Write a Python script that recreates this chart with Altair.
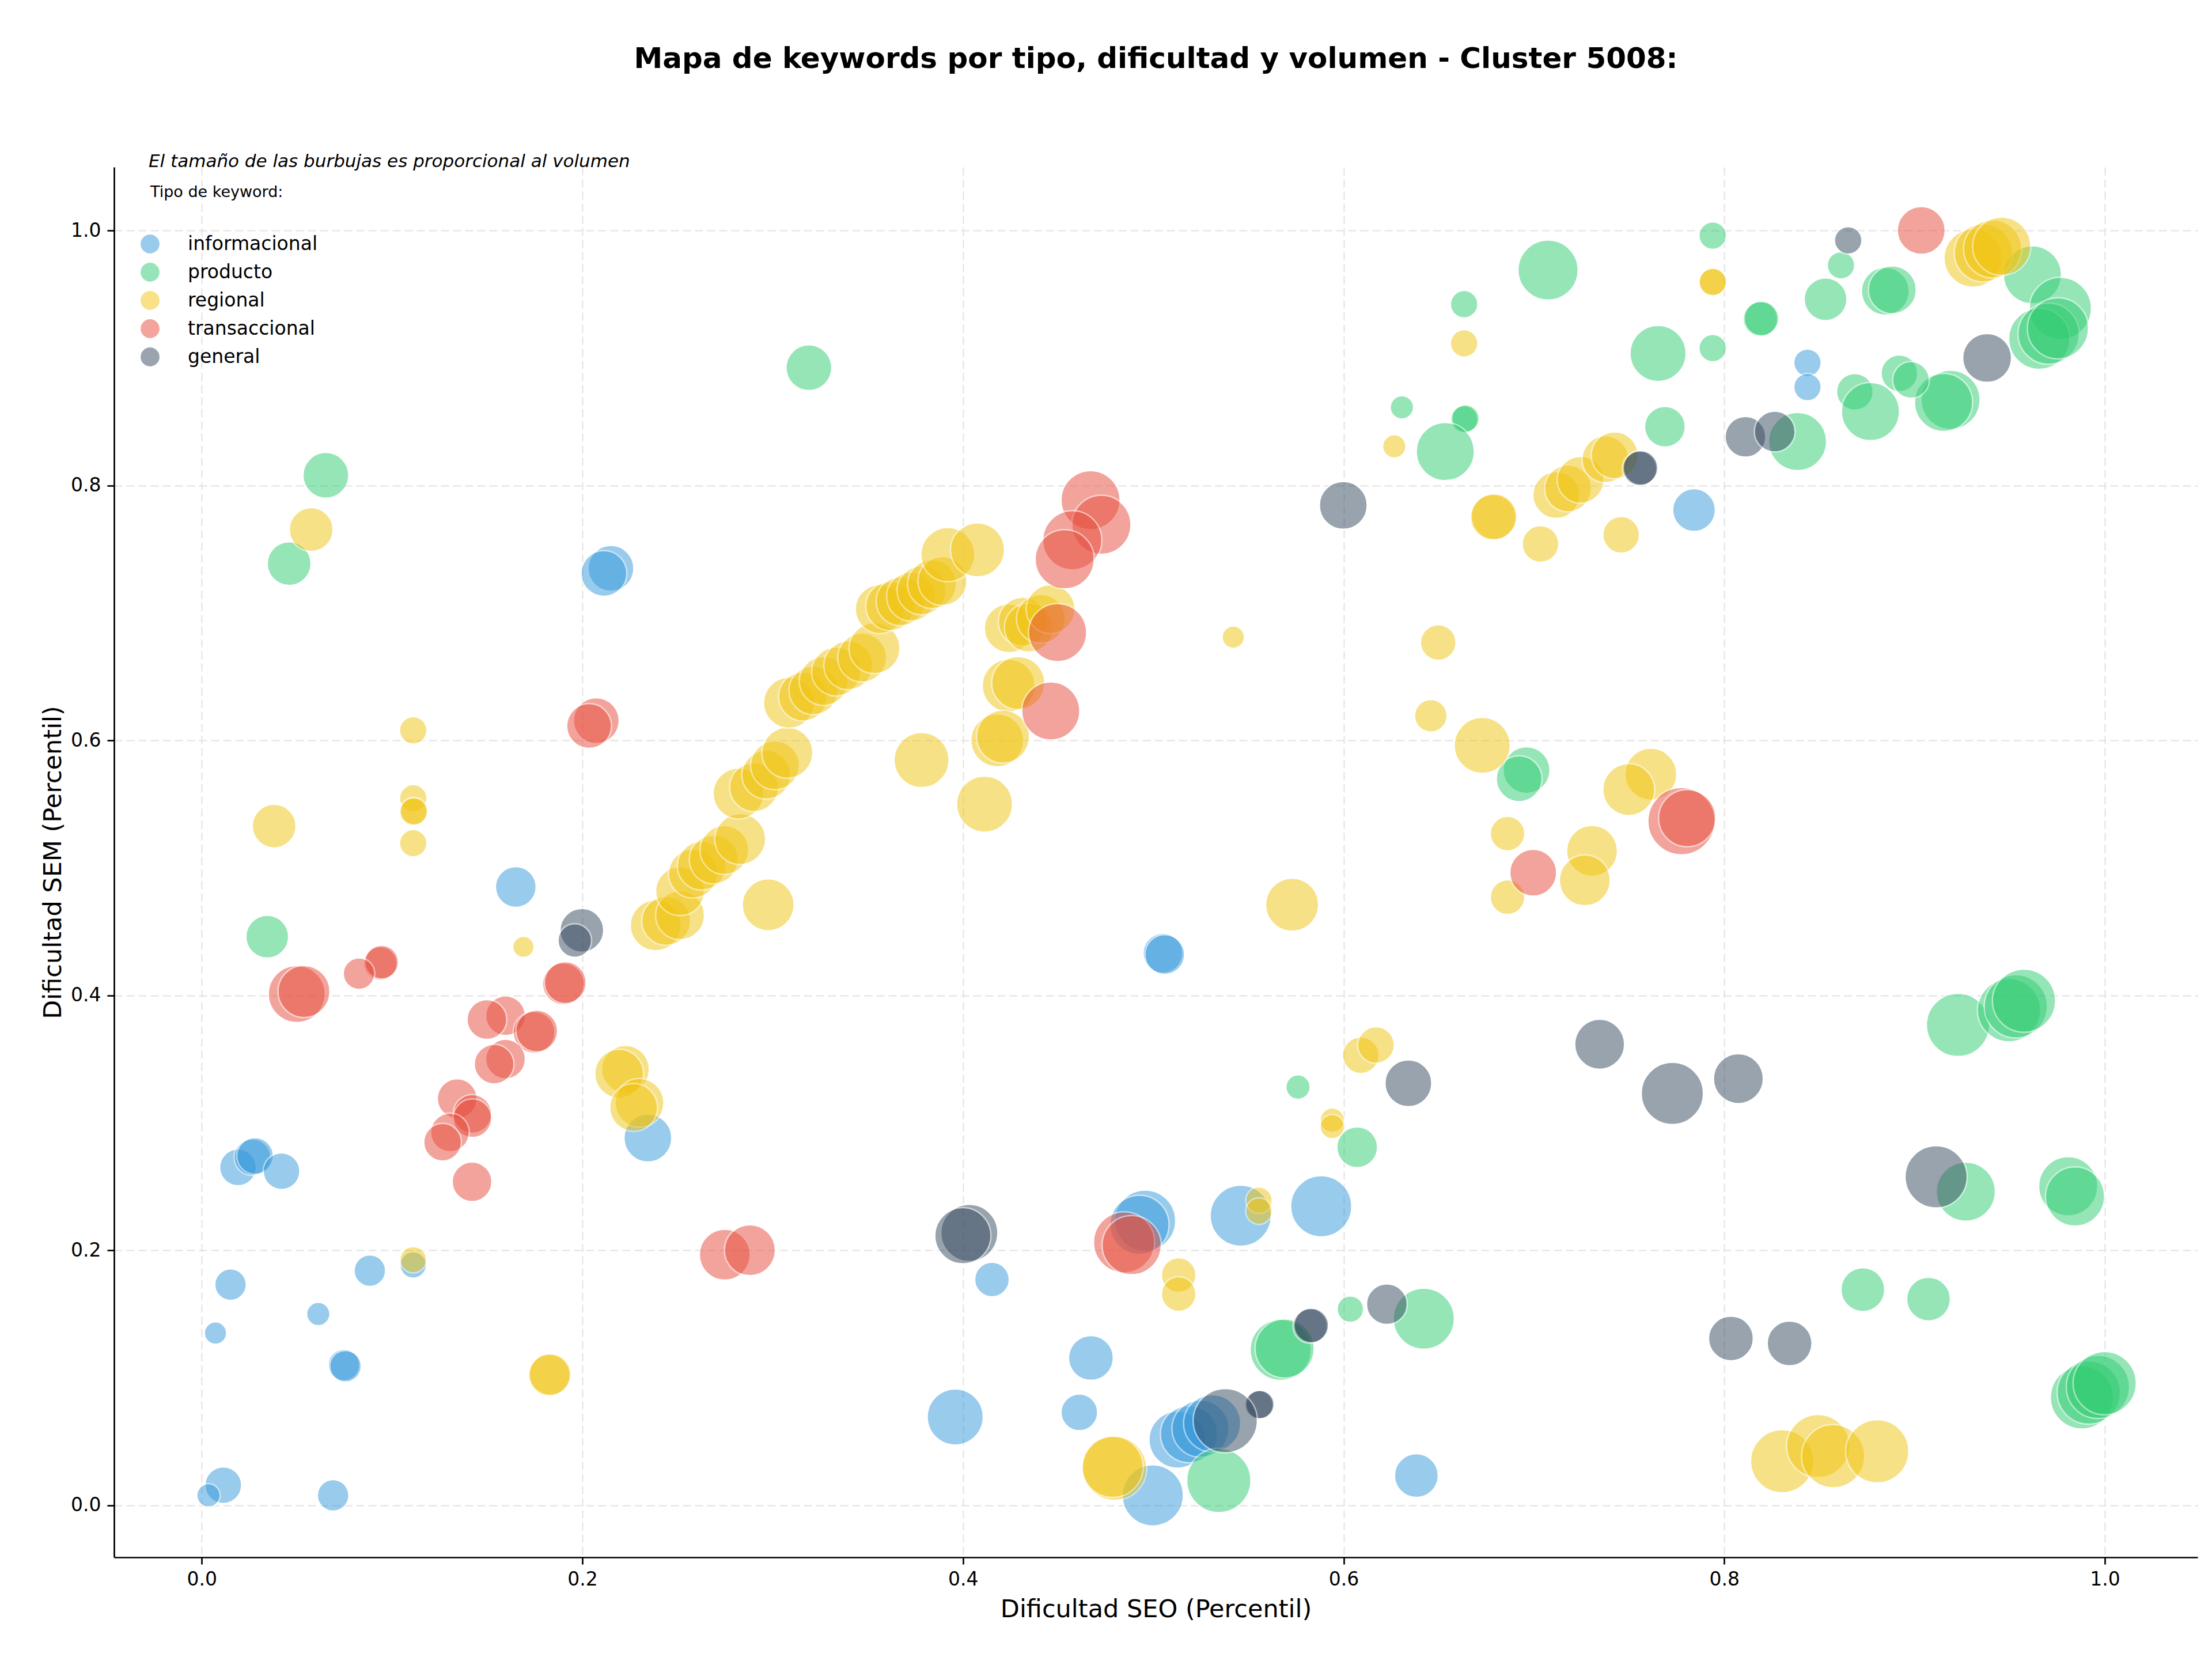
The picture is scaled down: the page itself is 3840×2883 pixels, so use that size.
import altair as alt
import pandas as pd

titulo = "Mapa de keywords por tipo, dificultad y volumen - Cluster 5008:"
nota = "El tamaño de las burbujas es proporcional al volumen"
titulo_leyenda = "Tipo de keyword:"
eje_x = "Dificultad SEO (Percentil)"
eje_y = "Dificultad SEM (Percentil)"
ticks = [0.0, 0.2, 0.4, 0.6, 0.8, 1.0]

tipos = ["informacional", "producto", "regional", "transaccional", "general"]
colores = ["#3498db", "#2ecc71", "#f1c40f", "#e74c3c", "#34495e"]

# informacional
seo_informacional = [0.165, 0.215, 0.2113, 0.2344, 0.019, 0.0266, 0.028, 0.0419, 0.0883, 0.0151,
                     0.1111, 0.0612, 0.0072, 0.0747, 0.0755, 0.0113, 0.0035, 0.069, 0.505, 0.506,
                     0.4152, 0.4957, 0.4927, 0.5459, 0.5882, 0.4672, 0.4611, 0.3959, 0.6382, 0.4997,
                     0.5127, 0.5187, 0.5248, 0.5309, 0.8437, 0.8437, 0.7841]
sem_informacional = [0.485, 0.735, 0.731, 0.288, 0.265, 0.273, 0.274, 0.262, 0.184, 0.173,
                     0.1885, 0.150, 0.135, 0.110, 0.109, 0.0157, 0.0077, 0.0077, 0.433, 0.432,
                     0.177, 0.2232, 0.220, 0.2271, 0.2345, 0.1155, 0.0728, 0.0692, 0.0232, 0.0077,
                     0.0514, 0.0557, 0.060, 0.0642, 0.8963, 0.8772, 0.7807]
vol_informacional = [1600, 2025, 2025, 2209, 1296, 1296, 1296, 1296, 961, 961,
                     676, 529, 484, 961, 961, 1296, 529, 961, 1521, 1521,
                     1156, 3600, 3364, 3600, 3600, 1936, 1296, 3025, 1849, 3600,
                     3136, 3136, 3136, 3136, 729, 729, 1764]

# producto
seo_producto = [0.319, 0.0652, 0.0459, 0.0344, 0.7074, 0.6633, 0.6306, 0.6633, 0.664, 0.6534,
                0.6961, 0.6922, 0.576, 0.7939, 0.8613, 0.9619, 0.9766, 0.9655, 0.9704, 0.9753,
                0.9189, 0.9152, 0.892, 0.8981, 0.8686, 0.8768, 0.8532, 0.8846, 0.8883, 0.8189,
                0.8195, 0.7652, 0.7939, 0.7688, 0.8385, 0.9228, 0.9496, 0.9532, 0.9575, 0.9269,
                0.9807, 0.9843, 0.8728, 0.9073, 0.9879, 0.9915, 0.9963, 0.9999, 0.6071, 0.6421,
                0.6035, 0.5669, 0.569, 0.5344]
sem_producto = [0.8924, 0.808, 0.7387, 0.446, 0.969, 0.9422, 0.8613, 0.8519, 0.8525, 0.8266,
                0.5767, 0.5699, 0.328, 0.996, 0.9727, 0.9653, 0.9389, 0.9151, 0.9191, 0.9233,
                0.8672, 0.8652, 0.888, 0.8828, 0.8735, 0.858, 0.9461, 0.9524, 0.9535, 0.9306,
                0.931, 0.9036, 0.9078, 0.8461, 0.8345, 0.3768, 0.3883, 0.3913, 0.3958, 0.246,
                0.2502, 0.2422, 0.1691, 0.1617, 0.0845, 0.0884, 0.0928, 0.0957, 0.2808, 0.1463,
                0.1538, 0.1219, 0.1229, 0.0194]
vol_producto = [2025, 2025, 1849, 1764, 3481, 729, 529, 729, 729, 3249,
                2116, 2025, 576, 729, 729, 3249, 3721, 3600, 3600, 3600,
                3364, 3249, 1296, 1296, 1296, 3249, 1764, 2209, 2209, 1156,
                1156, 3025, 729, 1600, 3249, 3844, 3844, 3844, 3844, 3364,
                3364, 3364, 1849, 1849, 3844, 3844, 3844, 3844, 1600, 3600,
                676, 3600, 3364, 3969]

# regional
seo_regional = [0.0575, 0.1111, 0.1111, 0.1111, 0.1115, 0.038, 0.1111, 0.169, 0.1111, 0.1825,
                0.183, 0.2226, 0.2193, 0.230, 0.2269, 0.2976,
                0.2385, 0.2440, 0.2513, 0.2513, 0.2581, 0.2627, 0.2690, 0.2746, 0.2829, 0.2820,
                0.2902, 0.2966, 0.3012, 0.3077, 0.3085, 0.3159, 0.3214, 0.3268, 0.3333, 0.3397,
                0.3470, 0.3535, 0.3562, 0.3617, 0.3672, 0.3727, 0.3782, 0.3837, 0.3892, 0.3920,
                0.4076,
                0.424, 0.4314, 0.4346, 0.4409, 0.446, 0.424, 0.429, 0.418, 0.421, 0.3782,
                0.4113, 0.542,
                0.6633, 0.6266, 0.6785, 0.679, 0.7034, 0.7117, 0.7179, 0.7245, 0.7375, 0.7424,
                0.7458, 0.7939, 0.794, 0.9307, 0.9361, 0.941, 0.9458,
                0.6497, 0.6458, 0.6728, 0.7614, 0.7498, 0.6861, 0.7305, 0.7267, 0.6861, 0.5729,
                0.5133, 0.5133, 0.5555, 0.5555, 0.594, 0.594, 0.609, 0.617, 0.4796, 0.4786,
                0.8304, 0.8493, 0.8572, 0.8804]
sem_regional = [0.7654, 0.6079, 0.5546, 0.5439, 0.5445, 0.5328, 0.5194, 0.438, 0.1926, 0.102,
                0.1025, 0.342, 0.3385, 0.3156, 0.312, 0.471,
                0.4549, 0.4584, 0.4628, 0.4817, 0.4955, 0.5017, 0.5066, 0.5140, 0.5226, 0.5583,
                0.5633, 0.5731, 0.5805, 0.5903, 0.6295, 0.6344, 0.6393, 0.6466, 0.6540, 0.6589,
                0.6650, 0.6724, 0.7030, 0.7054, 0.7091, 0.7128, 0.7177, 0.7226, 0.7250, 0.7458,
                0.7495,
                0.688, 0.6932, 0.6885, 0.6954, 0.703, 0.643, 0.645, 0.600, 0.603, 0.5846,
                0.550, 0.681,
                0.9115, 0.8307, 0.775, 0.7755, 0.7541, 0.7925, 0.7977, 0.8045, 0.8206, 0.8237,
                0.7613, 0.9594, 0.9598, 0.9784, 0.9825, 0.9856, 0.9877,
                0.6768, 0.6193, 0.5961, 0.5735, 0.5614, 0.5269, 0.5133, 0.4902, 0.477, 0.4711,
                0.1805, 0.1656, 0.2392, 0.2307, 0.302, 0.297, 0.353, 0.361, 0.029, 0.0301,
                0.0345, 0.0464, 0.0384, 0.0423]
vol_regional = [1849, 729, 729, 729, 729, 1849, 729, 441, 676, 1681,
                1681, 2209, 2304, 2304, 2209, 2601,
                2500, 2304, 2304, 2304, 2304, 2304, 2304, 2304, 2500, 2500,
                2304, 2304, 2304, 2500, 2500, 2304, 2304, 2304, 2304, 2304,
                2304, 2500, 2304, 2304, 2304, 2304, 2304, 2304, 2304, 2809,
                2809,
                2304, 2304, 2304, 2304, 2304, 2704, 2704, 2704, 2704, 2916,
                3025, 484,
                729, 529, 2025, 2025, 1296, 2116, 2116, 2116, 2116, 2116,
                1296, 729, 729, 3249, 3249, 3249, 3249,
                1225, 1024, 3025, 2601, 2601, 1156, 2500, 2500, 1156, 2704,
                1156, 1156, 676, 676, 576, 576, 1296, 1296, 3969, 3600,
                3844, 3844, 3844, 3844]

# transaccional
seo_transaccional = [0.0938, 0.0945, 0.0826, 0.0499, 0.0537, 0.190, 0.191, 0.1596, 0.1498, 0.1746,
                     0.176, 0.1596, 0.1536, 0.1342, 0.1422, 0.1422, 0.1304, 0.1265, 0.142, 0.2748,
                     0.288, 0.2073, 0.2035, 0.467, 0.4727, 0.4574, 0.4534, 0.4497, 0.4461, 0.7775,
                     0.7805, 0.6996, 0.4846, 0.4886, 0.9035]
sem_transaccional = [0.425, 0.426, 0.417, 0.401, 0.403, 0.409, 0.410, 0.384, 0.381, 0.371,
                     0.372, 0.350, 0.346, 0.319, 0.307, 0.3036, 0.2924, 0.2848, 0.2537, 0.1965,
                     0.200, 0.6155, 0.6113, 0.7885, 0.7692, 0.757, 0.7421, 0.6846, 0.6231, 0.5366,
                     0.539, 0.4962, 0.2062, 0.204, 1.0001]
vol_transaccional = [1089, 1089, 961, 3136, 2601, 1681, 1681, 1521, 1521, 1681,
                     1681, 1521, 1521, 1521, 1444, 1444, 1444, 1369, 1521, 2500,
                     2500, 2025, 1936, 3364, 3364, 3364, 3364, 3249, 3249, 4356,
                     3136, 2116, 3600, 3364, 2209]

# general
seo_general = [0.1997, 0.196, 0.5998, 0.8651, 0.9381, 0.8111, 0.8265, 0.7555, 0.756, 0.7345,
               0.7727, 0.8074, 0.9113, 0.8035, 0.8343, 0.4033, 0.3999, 0.6227, 0.5824, 0.583,
               0.5555, 0.556, 0.5378, 0.634]
sem_general = [0.451, 0.443, 0.7844, 0.9923, 0.9001, 0.8382, 0.8423, 0.8133, 0.8138, 0.3616,
               0.323, 0.3346, 0.2576, 0.1308, 0.1269, 0.2136, 0.2114, 0.1577, 0.1406, 0.141,
               0.0787, 0.079, 0.0663, 0.331]
vol_general = [1849, 1089, 2209, 729, 2304, 1600, 1600, 1156, 1156, 2401,
               3721, 2401, 3721, 1936, 1936, 3136, 3025, 1600, 1156, 1156,
               784, 784, 3969, 2116]

series = [
    ("informacional", seo_informacional, sem_informacional, vol_informacional),
    ("producto", seo_producto, sem_producto, vol_producto),
    ("regional", seo_regional, sem_regional, vol_regional),
    ("transaccional", seo_transaccional, sem_transaccional, vol_transaccional),
    ("general", seo_general, sem_general, vol_general),
]
rows = []
for tipo, xs, ys, vs in series:
    for a, b, v in zip(xs, ys, vs):
        rows.append({"seo": a, "sem": b, "volumen": v, "tipo": tipo, "orden": len(rows)})
df = pd.DataFrame(rows)

W, H = 3617, 2413
FONT = "DejaVu Sans"

axis_common = dict(
    values=ticks, format=".1f", grid=True, gridDash=[14, 7], gridColor="#e2e2e2", gridWidth=2,
    domainColor="black", domainWidth=2.7, tickColor="black", tickWidth=2.7, tickSize=12,
    labelFontSize=33, labelFont=FONT, labelColor="black", labelFlush=False,
    titleFontSize=43, titleFont=FONT, titleFontWeight="normal", titleColor="black",
)

puntos = alt.Chart(df).mark_circle(opacity=0.5, stroke="white", strokeWidth=2.5).encode(
    x=alt.X("seo:Q", scale=alt.Scale(domain=[-0.0461, 1.0487], nice=False, zero=False),
            axis=alt.Axis(title=eje_x, labelPadding=10, titlePadding=14, **axis_common)),
    y=alt.Y("sem:Q", scale=alt.Scale(domain=[-0.0409, 1.0498], nice=False, zero=False),
            axis=alt.Axis(title=eje_y, labelPadding=11, titlePadding=8, **axis_common)),
    size=alt.Size("volumen:Q", scale=alt.Scale(domain=[0, 4000], range=[0, 12566], zero=True), legend=None),
    color=alt.Color("tipo:N", scale=alt.Scale(domain=tipos, range=colores),
                    legend=alt.Legend(orient="none", legendX=46, legendY=117, title=None,
                                      labelFontSize=33, labelFont=FONT, labelColor="black",
                                      labelLimit=0,
                                      symbolSize=1075, symbolOpacity=0.5, symbolStrokeWidth=0,
                                      symbolType="circle", labelOffset=49, rowPadding=15,
                                      padding=0, direction="vertical")),
    order=alt.Order("orden:Q"),
)

t_titulo = alt.Chart(pd.DataFrame({"t": [titulo]})).mark_text(
    font=FONT, fontSize=50, fontWeight="bold", align="center", baseline="alphabetic", color="black"
).encode(text="t:N", x=alt.value(W / 2), y=alt.value(-172))

t_nota = alt.Chart(pd.DataFrame({"t": [nota]})).mark_text(
    font=FONT, fontSize=31, fontStyle="italic", align="left", baseline="alphabetic", color="black"
).encode(text="t:N", x=alt.value(60), y=alt.value(0))

t_leyenda = alt.Chart(pd.DataFrame({"t": [titulo_leyenda]})).mark_text(
    font=FONT, fontSize=27, align="left", baseline="alphabetic", color="black"
).encode(text="t:N", x=alt.value(63), y=alt.value(52))

chart = alt.layer(puntos, t_titulo, t_nota, t_leyenda).properties(
    width=W, height=H,
    autosize=alt.AutoSizeParams(type="none"),
    padding={"left": 198, "top": 290, "right": 25, "bottom": 180},
    background="white",
).configure_view(stroke=None)

chart.save("out.html", embed_options={"renderer": "svg", "actions": False})
